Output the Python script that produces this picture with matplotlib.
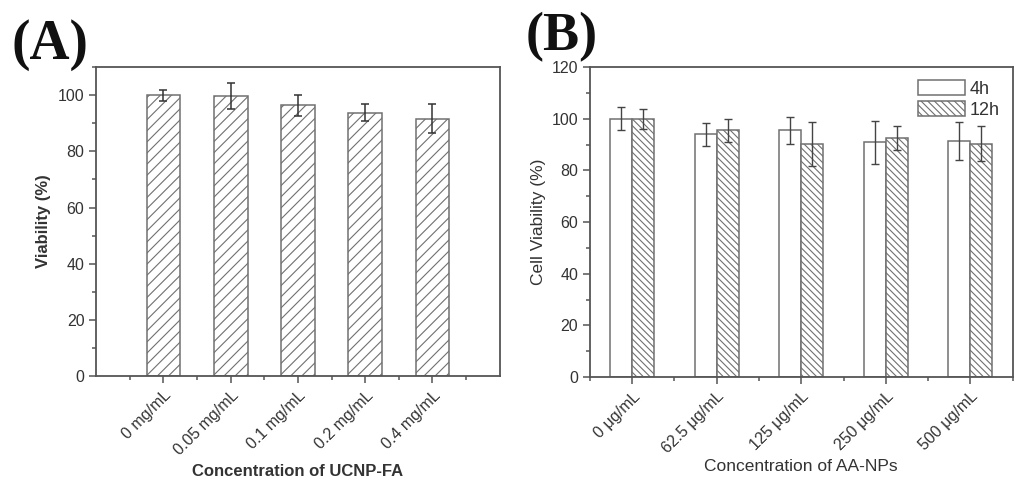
import numpy as np
import matplotlib.pyplot as plt
from matplotlib.ticker import MultipleLocator

# Panel A data
conc_a = ["0 mg/mL", "0.05 mg/mL", "0.1 mg/mL", "0.2 mg/mL", "0.4 mg/mL"]
via_a = [100.0, 99.8, 96.4, 93.8, 91.7]
err_a = [1.9, 4.6, 3.7, 3.0, 5.3]

# Panel B data
conc_b = ["0 μg/mL", "62.5 μg/mL", "125 μg/mL", "250 μg/mL", "500 μg/mL"]
via_4h = [100.0, 94.0, 95.5, 90.9, 91.5]
err_4h = [4.5, 4.5, 5.2, 8.4, 7.3]
via_12h = [100.0, 95.5, 90.2, 92.5, 90.4]
err_12h = [4.0, 4.6, 8.6, 4.7, 6.7]

plt.rcParams['font.family'] = ['Liberation Sans', 'DejaVu Sans']
txt = '#333333'
edge = '#707070'
plt.rcParams['hatch.linewidth'] = 0.8

fig = plt.figure(figsize=(10.24, 4.87), dpi=100)

def style_axes(ax):
    for s in ax.spines.values():
        s.set_color('#555555')
        s.set_linewidth(1.3)
    ax.tick_params(which='both', direction='out', colors='#555555', labelcolor=txt, width=1.1)
    ax.tick_params(which='major', length=5, labelsize=11.5)
    ax.tick_params(which='minor', length=3)
    ax.yaxis.set_minor_locator(MultipleLocator(10))

# ----- (A) -----
ax1 = fig.add_axes([0.094, 0.228, 0.394, 0.634])
x1 = np.arange(1, len(conc_a) + 1)
ax1.bar(x1, via_a, width=0.5, color='white', edgecolor=edge, hatch='///', linewidth=1.1, zorder=2)
ax1.errorbar(x1, via_a, yerr=err_a, fmt='none', ecolor='#333333', elinewidth=1.1, capsize=3, capthick=1.1, zorder=3)
ax1.set_xlim(0, 6)
ax1.set_ylim(0, 110)
ax1.set_xticks(x1)
ax1.set_xticklabels(conc_a, rotation=45, ha='right', va='top', rotation_mode='anchor')
ax1.xaxis.set_minor_locator(MultipleLocator(1, offset=0.5))
ax1.set_yticks(range(0, 101, 20))
style_axes(ax1)
ax1.set_ylabel('Viability (%)', fontsize=12, fontweight='bold', color=txt, labelpad=5)
ax1.set_xlabel('Concentration of UCNP-FA', fontsize=12, fontweight='bold', color=txt, labelpad=4)
fig.text(0.011, 0.962, '(A)', fontsize=40, fontweight='bold', family='Liberation Serif', va='top', ha='left', color='#111111')

# ----- (B) -----
ax2 = fig.add_axes([0.576, 0.226, 0.413, 0.636])
x2 = np.arange(1, len(conc_b) + 1)
w = 0.26
ax2.bar(x2 - w / 2, via_4h, width=w, color='white', edgecolor=edge, linewidth=1.1, label='4h', zorder=2)
ax2.bar(x2 + w / 2, via_12h, width=w, color='white', edgecolor=edge, hatch='\\\\\\\\\\', linewidth=1.1, label='12h', zorder=2)
ax2.errorbar(x2 - w / 2, via_4h, yerr=err_4h, fmt='none', ecolor='#444444', elinewidth=1.0, capsize=3, capthick=1.0, zorder=3)
ax2.errorbar(x2 + w / 2, via_12h, yerr=err_12h, fmt='none', ecolor='#444444', elinewidth=1.0, capsize=3, capthick=1.0, zorder=3)
ax2.set_xlim(0.5, 5.5)
ax2.set_ylim(0, 120)
ax2.set_xticks(x2)
ax2.set_xticklabels(conc_b, rotation=45, ha='right', va='top', rotation_mode='anchor')
ax2.xaxis.set_minor_locator(MultipleLocator(1, offset=0.5))
ax2.set_yticks(range(0, 121, 20))
style_axes(ax2)
ax2.set_ylabel('Cell Viability (%)', fontsize=12.5, color=txt, labelpad=4)
ax2.set_xlabel('Concentration of AA-NPs', fontsize=12.5, color=txt, labelpad=2)
ax2.legend(loc='upper right', frameon=False, fontsize=13, handlelength=2.6, handleheight=0.9,
           labelspacing=0.2, handletextpad=0.3, borderaxespad=0.3, labelcolor=txt)
fig.text(0.513, 0.975, '(B)', fontsize=39, fontweight='bold', family='Liberation Serif', va='top', ha='left', color='#111111')

fig.savefig('out.png', dpi=100)
